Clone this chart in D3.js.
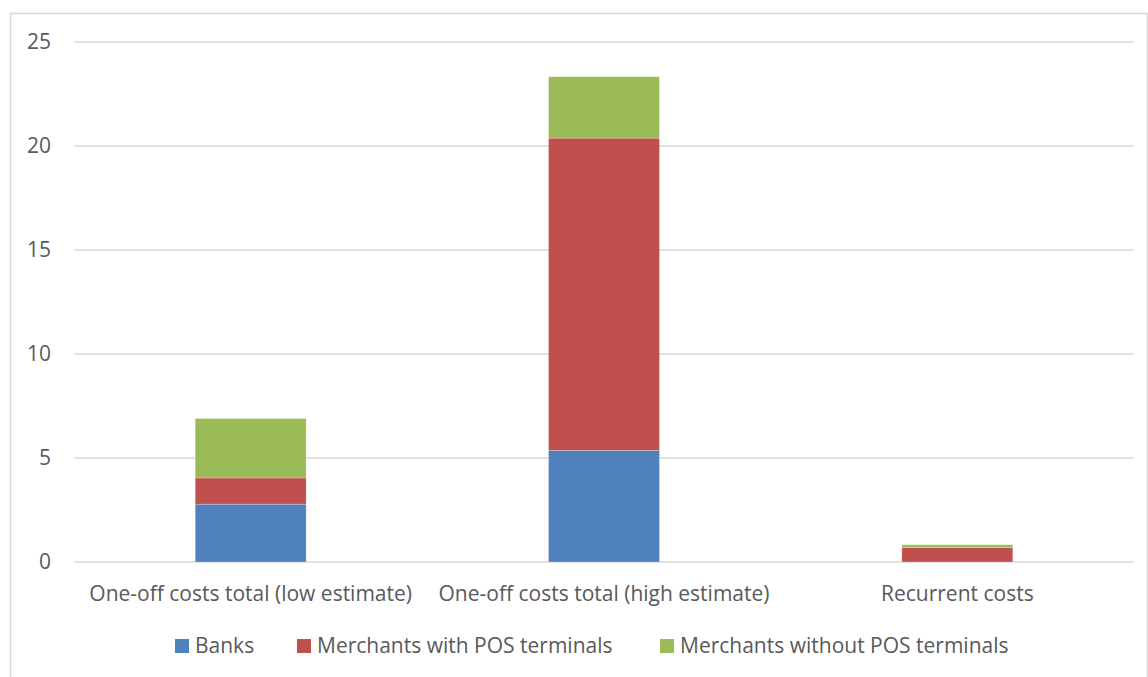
<!DOCTYPE html>
<html>
<head>
<meta charset="utf-8">
<script src="https://cdn.jsdelivr.net/npm/d3@7"></script>
<style>
  body { margin: 0; background: #fff; }
  text { font-family: "Open Sans", sans-serif; fill: #595959; }
</style>
</head>
<body>
<svg id="chart"></svg>
<script>
// Data
const categories = ['One-off costs total (low estimate)', 'One-off costs total (high estimate)', 'Recurrent costs'];
const seriesNames = ['Banks', 'Merchants with POS terminals', 'Merchants without POS terminals'];
const banks = [2.78, 5.37, 0];
const merchantsPos = [1.26, 15.01, 0.69];
const merchantsNoPos = [2.86, 2.95, 0.14];
const yTicks = [0, 5, 10, 15, 20, 25];
const colors = ['#4F81BD', '#C0504D', '#9BBB59'];

const width = 1148;
const height = 677;
const margin = { left: 74, right: 14, top: 42, bottom: 115 };
const fontSize = '21px';

const svg = d3.select('#chart')
  .attr('width', width)
  .attr('height', height);

// Frame
svg.append('rect')
  .attr('x', 10.5)
  .attr('y', 13.5)
  .attr('width', 1137)
  .attr('height', 680)
  .attr('fill', 'none')
  .attr('stroke', '#D9D9D9')
  .attr('stroke-width', 1.5);

const rows = categories.map((c, i) => ({
  category: c,
  'Banks': banks[i],
  'Merchants with POS terminals': merchantsPos[i],
  'Merchants without POS terminals': merchantsNoPos[i]
}));

const stack = d3.stack().keys(seriesNames)(rows);

// Scales
const xScale = d3.scaleBand()
  .domain(categories)
  .range([margin.left, width - margin.right])
  .paddingInner(0.686)
  .paddingOuter(0.343);

const yScale = d3.scaleLinear()
  .domain([0, 25])
  .range([height - margin.bottom, margin.top]);

// Gridlines
svg.append('g')
  .selectAll('line')
  .data(yTicks)
  .enter()
  .append('line')
  .attr('x1', margin.left)
  .attr('x2', width - margin.right)
  .attr('y1', d => yScale(d))
  .attr('y2', d => yScale(d))
  .attr('stroke', '#D9D9D9')
  .attr('stroke-width', 1.5);

// Y axis
const yAxis = d3.axisLeft(yScale).tickValues(yTicks).tickSize(0).tickPadding(23);
const yG = svg.append('g')
  .attr('transform', `translate(${margin.left}, 0)`)
  .call(yAxis);
yG.select('.domain').remove();
yG.selectAll('text')
  .style('font-size', fontSize)
  .style('font-family', '"Open Sans", sans-serif')
  .attr('fill', '#595959');

// Bars
svg.append('g')
  .selectAll('g')
  .data(stack)
  .enter()
  .append('g')
  .attr('fill', (d, i) => colors[i])
  .selectAll('rect')
  .data(d => d)
  .enter()
  .append('rect')
  .attr('x', d => xScale(d.data.category))
  .attr('width', xScale.bandwidth())
  .attr('y', d => yScale(d[1]))
  .attr('height', d => yScale(d[0]) - yScale(d[1]))
  .attr('stroke', '#ffffff')
  .attr('stroke-opacity', 0.4)
  .attr('stroke-width', 0.6);

// X axis
const xAxis = d3.axisBottom(xScale).tickSize(0).tickPadding(24);
const xG = svg.append('g')
  .attr('transform', `translate(0, ${height - margin.bottom})`)
  .call(xAxis);
xG.select('.domain').remove();
xG.selectAll('text')
  .style('font-size', fontSize)
  .style('font-family', '"Open Sans", sans-serif')
  .attr('fill', '#595959');

// Legend
const legendX = [175, 297, 660];
const legend = svg.append('g');
seriesNames.forEach((name, i) => {
  legend.append('rect')
    .attr('x', legendX[i])
    .attr('y', 639)
    .attr('width', 14)
    .attr('height', 14)
    .attr('fill', colors[i]);
  legend.append('text')
    .attr('x', legendX[i] + 20)
    .attr('y', 646)
    .attr('dy', '0.35em')
    .style('font-size', fontSize)
    .text(name);
});
</script>
</body>
</html>
